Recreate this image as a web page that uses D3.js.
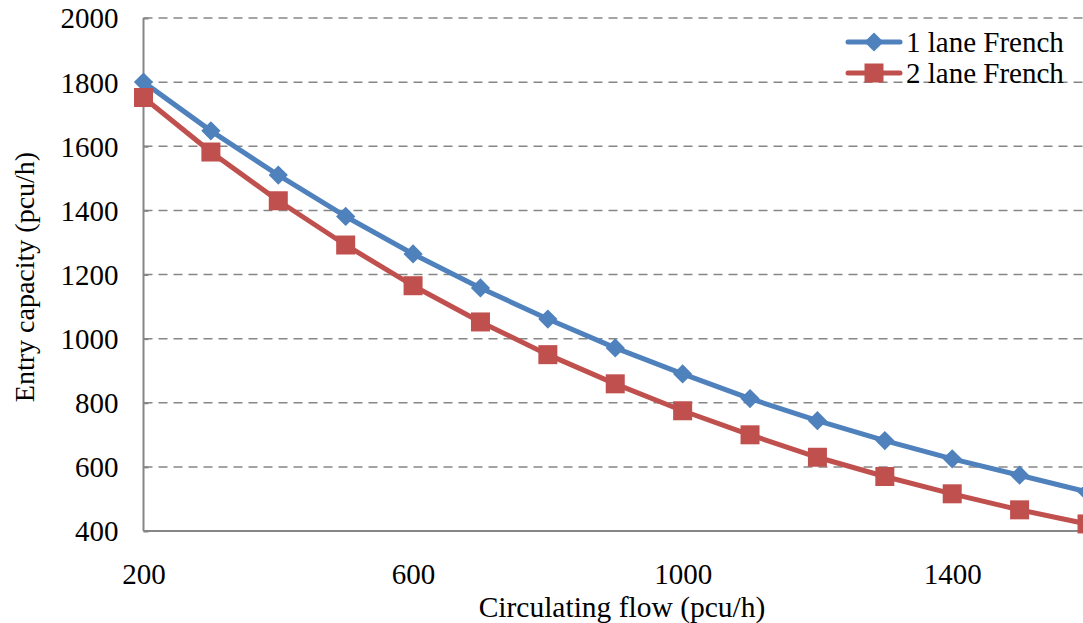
<!DOCTYPE html>
<html>
<head>
<meta charset="UTF-8">
<title>Entry capacity</title>
<style>
	body { margin: 0; background: #fff; }
	svg { display: block; font-family: "Liberation Serif", "Times New Roman", serif; }
	.grid line { stroke: #868686; stroke-width: 1.5; stroke-dasharray: 9 6; }
	.axisline { stroke: #868686; stroke-width: 2; }
	.tick text { fill: #000; }
</style>
</head>
<body>
<script src="https://cdn.jsdelivr.net/npm/d3@7"></script>
<script>
var flow = [200, 300, 400, 500, 600, 700, 800, 900, 1000, 1100, 1200, 1300, 1400, 1500, 1600];
var oneLane = [1800, 1648, 1510, 1381, 1264, 1158, 1061, 971, 890, 813, 744, 682, 625, 574, 522];
var twoLane = [1752, 1582, 1430, 1292, 1165, 1052, 950, 859, 775, 700, 630, 570, 516, 466, 422];
var xTicks = [200, 600, 1000, 1400];
var yTicks = [400, 600, 800, 1000, 1200, 1400, 1600, 1800, 2000];
var seriesNames = ["1 lane French", "2 lane French"];

var width = 1083, height = 623;
var serif = "'Liberation Serif', 'Times New Roman', serif";
var x = d3.scaleLinear().domain([200, 1600]).range([143.5, 1087]);
var y = d3.scaleLinear().domain([400, 2000]).range([531, 18]);

var svg = d3.select("body").append("svg")
	.attr("width", width).attr("height", height);

// dashed gridlines
svg.append("g").attr("class", "grid")
	.selectAll("line").data(yTicks.slice(1)).enter().append("line")
	.attr("x1", x(200)).attr("x2", width)
	.attr("y1", function(d) { return y(d); })
	.attr("y2", function(d) { return y(d); });

// y axis: inward ticks
var yAxis = d3.axisRight(y).tickValues(yTicks).tickSize(5).tickFormat(d3.format("d"));
var gy = svg.append("g").attr("transform", "translate(" + x(200) + ",0)").call(yAxis)
	.attr("font-family", serif).attr("font-size", 29);
gy.select(".domain").remove();
gy.selectAll(".tick line").attr("stroke", "#868686").attr("stroke-width", 2);
gy.selectAll(".tick text").attr("x", -25).attr("text-anchor", "end").attr("dy", "0.34em");

svg.append("line").attr("class", "axisline")
	.attr("x1", x(200)).attr("x2", x(200)).attr("y1", y(2000)).attr("y2", y(400));
svg.append("line").attr("class", "axisline")
	.attr("x1", x(200)).attr("x2", width).attr("y1", y(400)).attr("y2", y(400));

// x axis labels only
var xAxis = d3.axisBottom(x).tickValues(xTicks).tickSize(0).tickFormat(d3.format("d"));
var gx = svg.append("g").attr("transform", "translate(0," + y(400) + ")").call(xAxis)
	.attr("font-family", serif).attr("font-size", 29);
gx.select(".domain").remove();
gx.selectAll(".tick text").attr("y", 53).attr("dy", 0);

// axis titles
svg.append("text").attr("x", 622).attr("y", 617).attr("text-anchor", "middle")
	.style("font-size", "29.5px").text("Circulating flow (pcu/h)");
svg.append("text").attr("transform", "translate(34,277) rotate(-90)")
	.attr("text-anchor", "middle").style("font-size", "28px").text("Entry capacity (pcu/h)");

var colors = ["#4F81BD", "#C0504D"];
var line = d3.line().x(function(d) { return x(d[0]); }).y(function(d) { return y(d[1]); });
var series = [d3.zip(flow, oneLane), d3.zip(flow, twoLane)];

function marker(g, i, cx, cy) {
	if (i === 0) {
		g.append("path").attr("d", d3.symbol().type(d3.symbolSquare).size(185)())
			.attr("transform", "translate(" + cx + "," + cy + ") rotate(45)")
			.attr("fill", colors[0]);
	} else {
		g.append("rect").attr("x", cx - 9.5).attr("y", cy - 9.5)
			.attr("width", 19).attr("height", 19).attr("fill", colors[1]);
	}
}

series.forEach(function(s, i) {
	var g = svg.append("g");
	g.append("path").datum(s).attr("d", line)
		.attr("fill", "none").attr("stroke", colors[i]).attr("stroke-width", 5)
		.attr("stroke-linejoin", "round");
	s.forEach(function(d) { marker(g, i, x(d[0]), y(d[1])); });
});

// legend
seriesNames.forEach(function(name, i) {
	var ly = 42 + i * 31;
	var g = svg.append("g");
	g.append("line").attr("x1", 848).attr("x2", 900).attr("y1", ly).attr("y2", ly)
		.attr("stroke", colors[i]).attr("stroke-width", 5).attr("stroke-linecap", "round");
	marker(g, i, 874, ly);
	g.append("text").attr("x", 906).attr("y", ly).attr("dy", "0.33em")
		.style("font-size", "29px").text(name);
});
</script>
</body>
</html>
